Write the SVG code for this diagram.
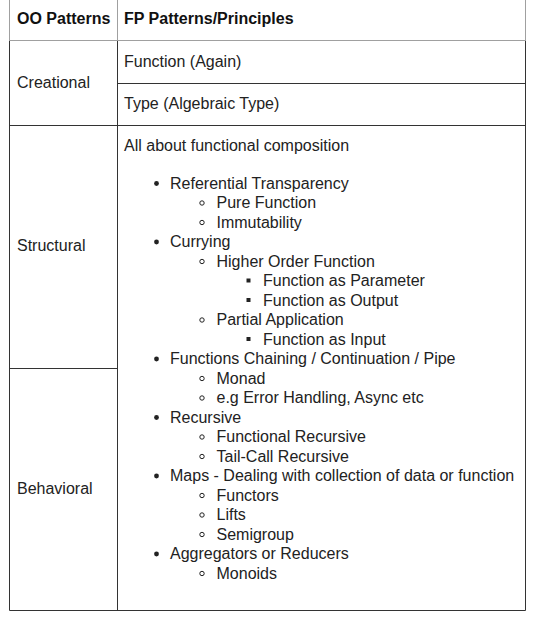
<svg xmlns="http://www.w3.org/2000/svg" width="540" height="620" viewBox="0 0 540 620">
<style>
text{font-family:"Liberation Sans",Arial,sans-serif;font-size:16px;fill:#222}
.h{font-weight:bold;fill:#111}
.lh{stroke:#a0a0a0;stroke-width:1;fill:none}
.lb{stroke:#333;stroke-width:1;fill:none}
.d{fill:#222}
.c{fill:none;stroke:#222;stroke-width:1}
.s{fill:#222}
</style>
<rect width="540" height="620" fill="#fff"/>
<g id="grid">
<path class="lh" d="M9.5 0V41M117.5 0V41M525.5 0V41M9.5 40.5H525.5"/>
<path class="lb" d="M9.5 41V610.5H525.5V41M117.5 41V610.5M117.5 83.5H525.5M117.5 125.5H525.5M9.5 125.5H117.5M9.5 368.5H117.5"/>
</g>
<g id="hdr-oo"><text class="h" x="17" y="24">OO Patterns</text></g>
<g id="hdr-fp"><text class="h" x="124" y="24">FP Patterns/Principles</text></g>
<g id="creational"><text x="17" y="88">Creational</text></g>
<g id="fn-again"><text x="124" y="67">Function (Again)</text></g>
<g id="type-alg"><text x="124" y="109">Type (Algebraic Type)</text></g>
<g id="structural"><text x="17" y="251">Structural</text></g>
<g id="behavioral"><text x="17" y="494">Behavioral</text></g>
<g id="fp-list">
<text x="124" y="151">All about functional composition</text>
<g id="l1">
<circle class="d" cx="156.5" cy="183.5" r="2.4"/><text x="170" y="188.5">Referential Transparency</text>
<circle class="d" cx="156.5" cy="242" r="2.4"/><text x="170" y="247">Currying</text>
<circle class="d" cx="156.5" cy="359" r="2.4"/><text x="170" y="364">Functions Chaining / Continuation / Pipe</text>
<circle class="d" cx="156.5" cy="417.5" r="2.4"/><text x="170" y="422.5">Recursive</text>
<circle class="d" cx="156.5" cy="476" r="2.4"/><text x="170" y="481">Maps - Dealing with collection of data or function</text>
<circle class="d" cx="156.5" cy="554" r="2.4"/><text x="170" y="559">Aggregators or Reducers</text>
</g>
<g id="l2">
<circle class="c" cx="202" cy="203" r="2.2"/><text x="216.5" y="208">Pure Function</text>
<circle class="c" cx="202" cy="222.5" r="2.2"/><text x="216.5" y="227.5">Immutability</text>
<circle class="c" cx="202" cy="261.5" r="2.2"/><text x="216.5" y="266.5">Higher Order Function</text>
<circle class="c" cx="202" cy="320" r="2.2"/><text x="216.5" y="325">Partial Application</text>
<circle class="c" cx="202" cy="378.5" r="2.2"/><text x="216.5" y="383.5">Monad</text>
<circle class="c" cx="202" cy="398" r="2.2"/><text x="216.5" y="403">e.g Error Handling, Async etc</text>
<circle class="c" cx="202" cy="437" r="2.2"/><text x="216.5" y="442">Functional Recursive</text>
<circle class="c" cx="202" cy="456.5" r="2.2"/><text x="216.5" y="461.5">Tail-Call Recursive</text>
<circle class="c" cx="202" cy="495.5" r="2.2"/><text x="216.5" y="500.5">Functors</text>
<circle class="c" cx="202" cy="515" r="2.2"/><text x="216.5" y="520">Lifts</text>
<circle class="c" cx="202" cy="534.5" r="2.2"/><text x="216.5" y="539.5">Semigroup</text>
<circle class="c" cx="202" cy="573.5" r="2.2"/><text x="216.5" y="578.5">Monoids</text>
</g>
<g id="l3">
<rect class="s" x="246.5" y="278.5" width="4" height="4"/><text x="263" y="286">Function as Parameter</text>
<rect class="s" x="246.5" y="298" width="4" height="4"/><text x="263" y="305.5">Function as Output</text>
<rect class="s" x="246.5" y="337" width="4" height="4"/><text x="263" y="344.5">Function as Input</text>
</g>
</g>
</svg>
